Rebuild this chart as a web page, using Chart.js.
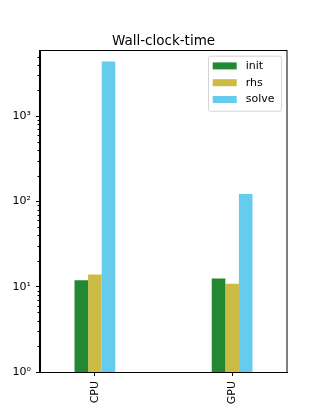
<!DOCTYPE html>
<html>
<head>
<meta charset="utf-8">
<script src="https://cdn.jsdelivr.net/npm/chart.js@4"></script>
<style>
  html, body { margin: 0; padding: 0; background: #fff; }
  #wrap { width: 319px; height: 419px; }
</style>
</head>
<body>
<div id="wrap"><canvas id="timeChart" width="319" height="419"></canvas></div>
<script>
// data (log scale)
const categories = ['CPU', 'GPU'];
const seriesNames = ['init', 'rhs', 'solve'];
const initTimes = [11.9, 12.5];
const rhsTimes = [13.9, 10.8];
const solveTimes = [4360, 122];
const seriesColors = ['#228833', '#CCBB44', '#66CCEE'];
const yTicks = [1, 10, 100, 1000];
const yTickLabels = ['10\u2070', '10\u00b9', '10\u00b2', '10\u00b3'];
const yMin = 1;
const yMax = 5930;

const FONT = '"DejaVu Sans", sans-serif';

function toPoints(values) {
    return values.map((v, i) => ({ x: i, y: v }));
}

// minor log ticks + box frame round the plot
const framePlugin = {
    id: 'frame',
    afterDraw(chart) {
        const ctx = chart.ctx;
        const area = chart.chartArea;
        const y = chart.scales.y;
        ctx.save();
        ctx.strokeStyle = '#000';
        ctx.lineWidth = 1;
        for (let p = 0; p < 4; p++) {
            for (let m = 2; m < 10; m++) {
                const v = m * Math.pow(10, p);
                if (v > yMax) continue;
                const py = Math.round(y.getPixelForValue(v)) + 0.5;
                ctx.beginPath();
                ctx.moveTo(area.left - 2.5, py);
                ctx.lineTo(area.left, py);
                ctx.stroke();
            }
        }
        ctx.strokeRect(Math.round(area.left) - 0.5, Math.round(area.top) + 0.5,
            Math.round(area.right - area.left) + 0.5, Math.round(area.bottom - area.top));
        ctx.restore();
    }
};

// matplotlib-like legend in the upper right of the plot
const legendPlugin = {
    id: 'boxLegend',
    afterDraw(chart) {
        const ctx = chart.ctx;
        const area = chart.chartArea;
        const boxW = 73, boxH = 55;
        const left = area.right - 6 - boxW;
        const top = area.top + 5.5;
        ctx.save();
        ctx.beginPath();
        ctx.roundRect(left + 0.5, top + 0.5, boxW, boxH, 2);
        ctx.fillStyle = 'rgba(255,255,255,0.8)';
        ctx.fill();
        ctx.strokeStyle = '#d5d5d5';
        ctx.lineWidth = 1;
        ctx.stroke();
        ctx.font = '11px ' + FONT;
        ctx.textBaseline = 'middle';
        chart.data.datasets.forEach((ds, i) => {
            const cy = top + 10.2 + i * 16.8;
            ctx.fillStyle = ds.backgroundColor;
            ctx.fillRect(left + 4.7, cy - 3.5, 24, 7);
            ctx.fillStyle = '#000';
            ctx.fillText(ds.label, left + 37.7, cy);
        });
        ctx.restore();
    }
};

let ctx = document.getElementById('timeChart');
const timeChart = new Chart(ctx, {
    type: 'bar',
    data: {
        datasets: [
            { label: seriesNames[0], data: toPoints(initTimes), backgroundColor: seriesColors[0] },
            { label: seriesNames[1], data: toPoints(rhsTimes), backgroundColor: seriesColors[1] },
            { label: seriesNames[2], data: toPoints(solveTimes), backgroundColor: seriesColors[2] }
        ]
    },
    options: {
        responsive: false,
        animation: false,
        devicePixelRatio: 1,
        categoryPercentage: 0.297,
        barPercentage: 1,
        layout: { padding: { top: 33, right: 32, bottom: 0, left: 0 } },
        plugins: {
            legend: { display: false },
            tooltip: { enabled: false },
            title: {
                display: true,
                text: 'Wall-clock-time',
                fullSize: false,
                color: '#000',
                font: { family: FONT, size: 13.5, weight: 'normal' },
                padding: { top: 0, bottom: 1 }
            }
        },
        scales: {
            x: {
                type: 'linear',
                min: -0.4,
                max: 1.4,
                offset: false,
                afterBuildTicks: (scale) => {
                    scale.ticks = categories.map((c, i) => ({ value: i }));
                },
                afterFit: (scale) => { scale.height = 47; },
                ticks: {
                    color: '#000',
                    font: { family: FONT, size: 11 },
                    minRotation: 90,
                    maxRotation: 90,
                    padding: 5,
                    callback: (value) => categories[value]
                },
                grid: {
                    offset: false,
                    drawOnChartArea: false,
                    tickLength: 4,
                    tickColor: '#000'
                },
                border: { color: '#000' }
            },
            y: {
                type: 'logarithmic',
                min: yMin,
                max: yMax,
                afterBuildTicks: (scale) => {
                    scale.ticks = yTicks.map(v => ({ value: v }));
                },
                afterFit: (scale) => { scale.width = 40; },
                ticks: {
                    color: '#000',
                    font: { family: FONT, size: 11 },
                    padding: 5,
                    callback: (value) => yTickLabels[yTicks.indexOf(value)]
                },
                grid: {
                    drawOnChartArea: false,
                    tickLength: 4,
                    tickColor: '#000'
                },
                border: { color: '#000' }
            }
        }
    },
    plugins: [framePlugin, legendPlugin]
});
</script>
</body>
</html>
